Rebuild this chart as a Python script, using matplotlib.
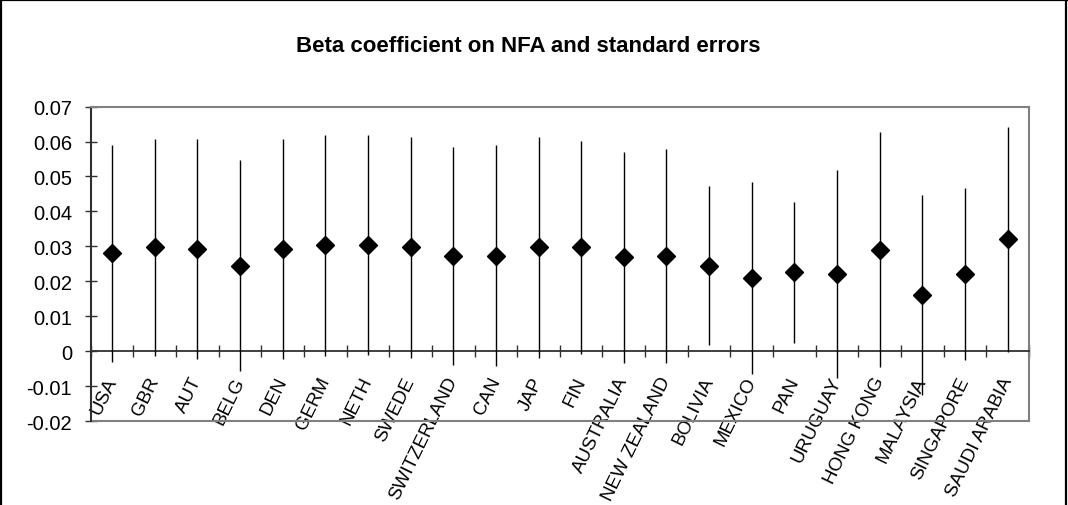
import matplotlib.pyplot as plt
import numpy as np
from matplotlib.lines import Line2D

plt.rcParams['font.family'] = ['Liberation Sans', 'DejaVu Sans']

# Country estimates of the NFA beta and their standard errors
countries = ['USA', 'GBR', 'AUT', 'BELG', 'DEN', 'GERM', 'NETH', 'SWEDE',
             'SWITZERLAND', 'CAN', 'JAP', 'FIN', 'AUSTRALIA', 'NEW ZEALAND',
             'BOLIVIA', 'MEXICO', 'PAN', 'URUGUAY', 'HONG KONG', 'MALAYSIA',
             'SINGAPORE', 'SAUDI ARABIA']
beta = [0.0280, 0.0297, 0.0292, 0.0245, 0.0292, 0.0303, 0.0304, 0.0297,
        0.0273, 0.0273, 0.0297, 0.0297, 0.0269, 0.0273, 0.0245, 0.0209,
        0.0226, 0.0221, 0.0291, 0.0161, 0.0221, 0.0320]
std_err = [0.0310, 0.0309, 0.0314, 0.0302, 0.0314, 0.0315, 0.0314, 0.0316,
           0.0311, 0.0316, 0.0316, 0.0304, 0.0301, 0.0305, 0.0227, 0.0275,
           0.0201, 0.0298, 0.0335, 0.0285, 0.0246, 0.0322]
y_ticks = [-0.02, -0.01, 0, 0.01, 0.02, 0.03, 0.04, 0.05, 0.06, 0.07]
y_labels = ['-0.02', '-0.01', '0', '0.01', '0.02', '0.03', '0.04', '0.05', '0.06', '0.07']

fig = plt.figure(figsize=(10.68, 5.06), dpi=100)
ax = fig.add_axes([0.0849, 0.1654, 0.8786, 0.6221])

x = np.arange(len(countries))
ax.errorbar(x, beta, yerr=std_err, fmt='D', color='black', ms=9,
            elinewidth=1.0, capsize=0, zorder=3)

ax.set_xlim(-0.5, len(countries) - 0.5)
ax.set_ylim(-0.02, 0.07)

# frame of the plot area
for side in ['top', 'right']:
    ax.spines[side].set_color('#808080')
    ax.spines[side].set_linewidth(1.5)
ax.spines['left'].set_color('#303030')
ax.spines['left'].set_linewidth(1.5)
ax.spines['bottom'].set_position(('data', 0))
ax.spines['bottom'].set_color('#303030')
ax.spines['bottom'].set_linewidth(1.3)
ax.axhline(-0.02, color='#808080', lw=1.5, clip_on=False)

ax.set_yticks(y_ticks)
ax.set_yticklabels(y_labels)
ax.tick_params(axis='y', direction='inout', length=8.6, width=1.0,
               color='#303030', labelsize=14.5, pad=9.2)

ax.set_xticks(x)
ax.set_xticklabels(countries, rotation=64, ha='right', va='center',
                   rotation_mode='anchor')
ax.set_xticks(np.arange(-0.5, len(countries), 1), minor=True)
ax.tick_params(axis='x', which='major', length=0, labelsize=13.5, pad=19)
ax.tick_params(axis='x', which='minor', direction='inout', length=8.6,
               width=1.0, color='#303030')

fig.text(0.495, 0.909, 'Beta coefficient on NFA and standard errors',
         ha='center', va='center', fontsize=16, fontweight='bold')

# outer chart border
for xs, ys in [([0.001, 0.001], [0, 1]), ([0, 1], [0.998, 0.998]),
               ([0.998, 0.998], [0, 1])]:
    fig.add_artist(Line2D(xs, ys, color='black', lw=1.6, transform=fig.transFigure))

fig.savefig('out.png', dpi=100)
